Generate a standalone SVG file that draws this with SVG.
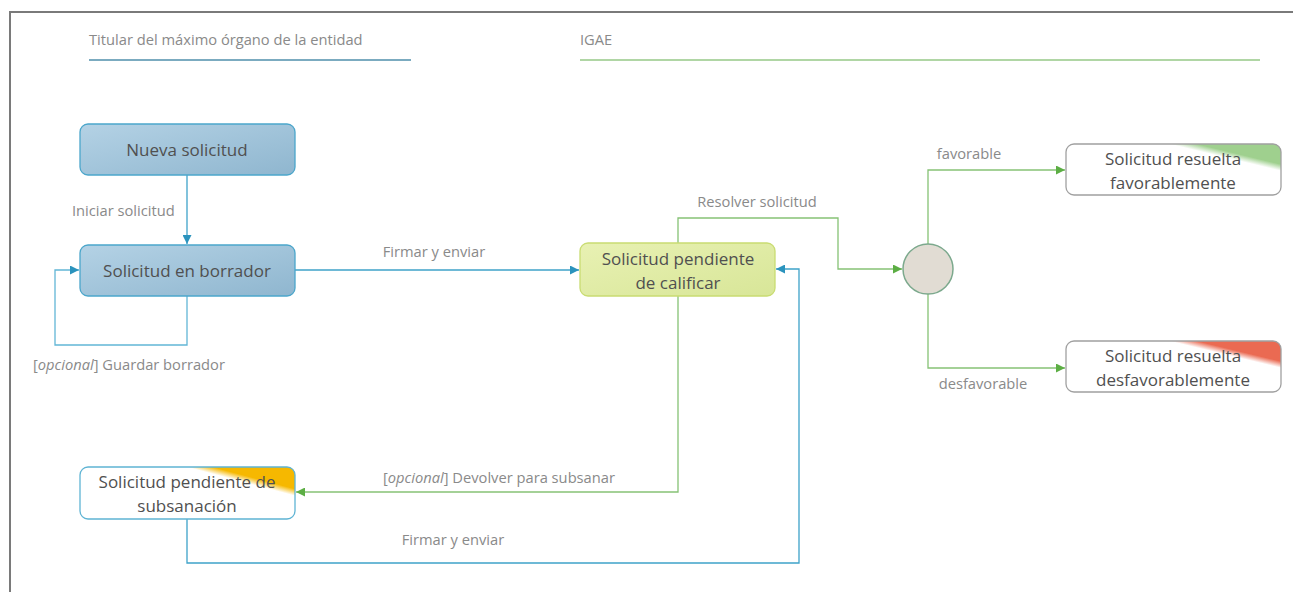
<svg xmlns="http://www.w3.org/2000/svg" width="1293" height="592" viewBox="0 0 1293 592">
<style>
  .lbl{font-family:"Open Sans","Liberation Sans",sans-serif;font-size:14.7px;fill:#8a8a8a}
  .nt{font-family:"Open Sans","Liberation Sans",sans-serif;font-size:17px;fill:#505050;text-anchor:middle}
  .blue{fill:none;stroke:#3ea2c9;stroke-width:1.3}
  .green{fill:none;stroke:#86c275;stroke-width:1.3}
  .bnode{fill:url(#gBlue);stroke:#4ba6cb;stroke-width:1.3}
  .wnode{stroke:#a0a0a0;stroke-width:1.3}
</style>
<defs>
  <linearGradient id="gBlue" x1="0" y1="0" x2="1" y2="1">
    <stop offset="0" stop-color="#b4d2e5"/>
    <stop offset="1" stop-color="#8fb6cf"/>
  </linearGradient>
  <linearGradient id="gLime" x1="0" y1="0" x2="1" y2="1">
    <stop offset="0" stop-color="#e8f1b3"/>
    <stop offset="1" stop-color="#d8e698"/>
  </linearGradient>
  <linearGradient id="gFav" gradientUnits="userSpaceOnUse" x1="1274" y1="173" x2="1281" y2="144">
    <stop offset="0" stop-color="#ffffff"/>
    <stop offset="0.12" stop-color="#ffffff"/>
    <stop offset="0.34" stop-color="#9fd08e"/>
    <stop offset="1" stop-color="#9fd08e"/>
  </linearGradient>
  <linearGradient id="gDes" gradientUnits="userSpaceOnUse" x1="1274" y1="370" x2="1281" y2="341">
    <stop offset="0" stop-color="#ffffff"/>
    <stop offset="0.12" stop-color="#ffffff"/>
    <stop offset="0.34" stop-color="#ea6a52"/>
    <stop offset="1" stop-color="#ea6a52"/>
  </linearGradient>
  <linearGradient id="gSub" gradientUnits="userSpaceOnUse" x1="287" y1="497" x2="295" y2="467">
    <stop offset="0" stop-color="#ffffff"/>
    <stop offset="0.1" stop-color="#ffffff"/>
    <stop offset="0.32" stop-color="#f6b800"/>
    <stop offset="1" stop-color="#f6b800"/>
  </linearGradient>
  <marker id="aBlue" markerUnits="userSpaceOnUse" viewBox="0 0 10 10" refX="10" refY="5" markerWidth="9" markerHeight="9" orient="auto">
    <path d="M0,0 L10,5 L0,10 z" fill="#2b93bd"/>
  </marker>
  <marker id="aGreen" markerUnits="userSpaceOnUse" viewBox="0 0 10 10" refX="10" refY="5" markerWidth="9" markerHeight="9" orient="auto">
    <path d="M0,0 L10,5 L0,10 z" fill="#5cae44"/>
  </marker>
</defs>

<rect width="1293" height="592" fill="#ffffff"/>
<g id="frame">
  <path d="M10,592 L10,12 L1293,12" fill="none" stroke="#7a7a7a" stroke-width="2"/>
</g>

<g id="lane-titular">
  <text class="lbl" x="89" y="45">Titular del máximo órgano de la entidad</text>
  <line x1="89" y1="60" x2="411" y2="60" stroke="#4f8fab" stroke-width="1.5"/>
</g>
<g id="lane-igae">
  <text class="lbl" x="580" y="45">IGAE</text>
  <line x1="580" y1="60" x2="1260" y2="60" stroke="#96c887" stroke-width="1.5"/>
</g>

<g id="connectors">
  <path class="blue" d="M187,175 L187,244" marker-end="url(#aBlue)"/>
  <text class="lbl" x="72" y="216">Iniciar solicitud</text>

  <path class="blue" d="M187,296 L187,345 L55,345 L55,270 L79,270" marker-end="url(#aBlue)" style="stroke:#62b6d6"/>
  <text class="lbl" x="33" y="370">[<tspan font-style="italic">opcional</tspan>] Guardar borrador</text>

  <path class="blue" d="M295,270 L579,270" marker-end="url(#aBlue)"/>
  <text class="lbl" x="434" y="257" text-anchor="middle">Firmar y enviar</text>

  <path class="green" d="M678,243 L678,218 L838,218 L838,269 L902,269" marker-end="url(#aGreen)"/>
  <text class="lbl" x="757" y="207" text-anchor="middle">Resolver solicitud</text>

  <path class="green" d="M928,244 L928,170 L1065,170" marker-end="url(#aGreen)"/>
  <text class="lbl" x="969" y="159" text-anchor="middle">favorable</text>

  <path class="green" d="M928,294 L928,368 L1065,368" marker-end="url(#aGreen)"/>
  <text class="lbl" x="983" y="389" text-anchor="middle">desfavorable</text>

  <path class="green" d="M678,296 L678,492 L296,492" marker-end="url(#aGreen)"/>
  <text class="lbl" x="383" y="483">[<tspan font-style="italic">opcional</tspan>] Devolver para subsanar</text>

  <path class="blue" d="M187,519 L187,563 L799,563 L799,269 L776,269" marker-end="url(#aBlue)"/>
  <text class="lbl" x="453" y="545" text-anchor="middle">Firmar y enviar</text>
</g>

<g id="node-nueva">
  <rect class="bnode" x="80" y="124" width="215" height="51" rx="8"/>
  <text class="nt" x="187" y="156">Nueva solicitud</text>
</g>
<g id="node-borrador">
  <rect class="bnode" x="80" y="245" width="215" height="51" rx="8"/>
  <text class="nt" x="187" y="276.5">Solicitud en borrador</text>
</g>
<g id="node-calificar">
  <rect x="580" y="243" width="195" height="53" rx="8" fill="url(#gLime)" stroke="#c9dc72" stroke-width="1.3"/>
  <text class="nt" x="678" y="265">Solicitud pendiente</text>
  <text class="nt" x="678" y="289">de calificar</text>
</g>
<g id="node-decision">
  <circle cx="928" cy="269" r="25" fill="#e1dcd3" stroke="#7ca98d" stroke-width="1.5"/>
</g>
<g id="node-favorable">
  <rect class="wnode" x="1066" y="144" width="215" height="51" rx="8" fill="url(#gFav)"/>
  <text class="nt" x="1173" y="165">Solicitud resuelta</text>
  <text class="nt" x="1173" y="189">favorablemente</text>
</g>
<g id="node-desfavorable">
  <rect class="wnode" x="1066" y="341" width="215" height="51" rx="8" fill="url(#gDes)"/>
  <text class="nt" x="1173" y="362">Solicitud resuelta</text>
  <text class="nt" x="1173" y="386">desfavorablemente</text>
</g>
<g id="node-subsanacion">
  <rect x="80" y="467" width="215" height="52" rx="8" fill="url(#gSub)" stroke="#5fb4d4" stroke-width="1.3"/>
  <text class="nt" x="187" y="488">Solicitud pendiente de</text>
  <text class="nt" x="187" y="512">subsanación</text>
</g>
</svg>
